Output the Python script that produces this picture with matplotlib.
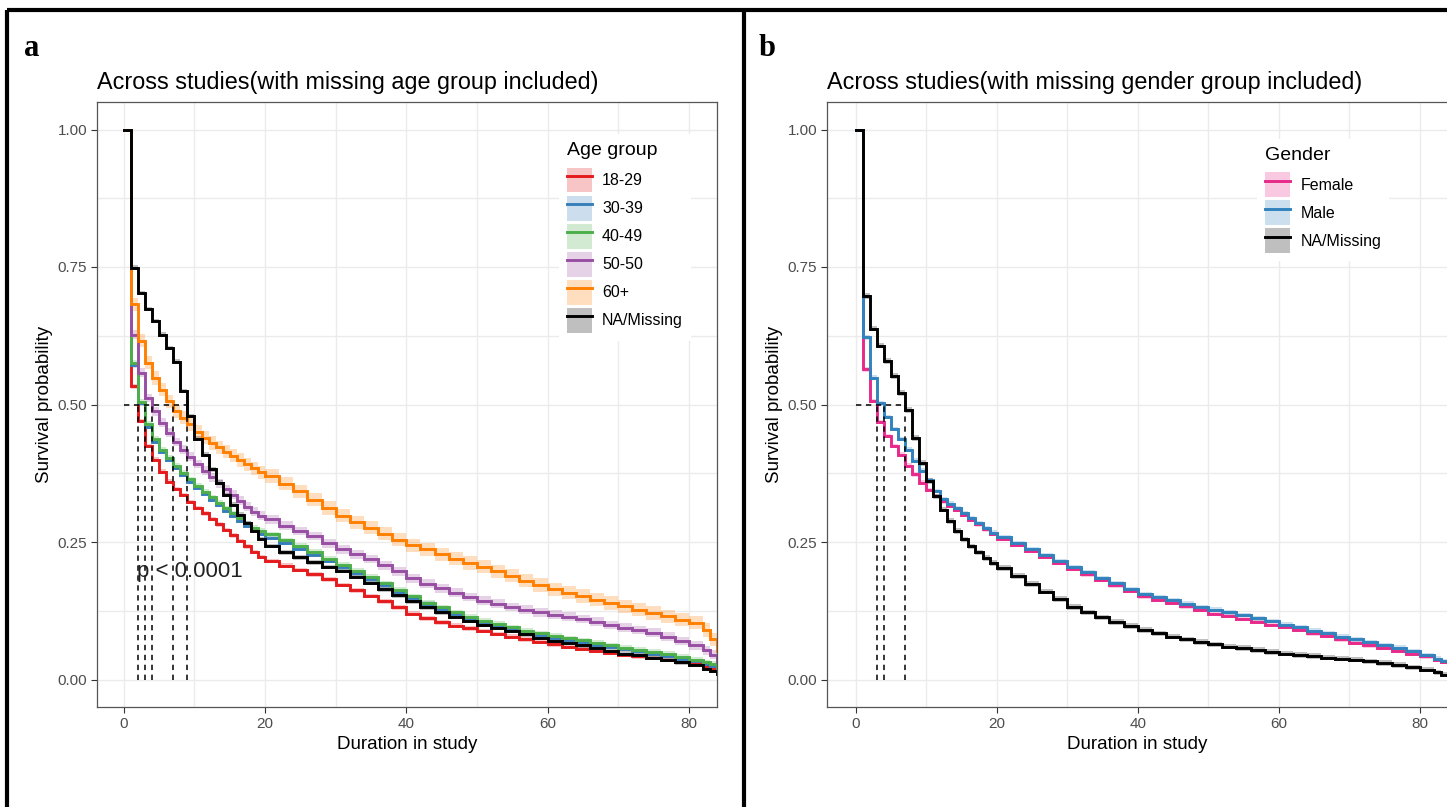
import matplotlib.pyplot as plt
from matplotlib.lines import Line2D
from matplotlib.patches import Patch

plt.rcParams['font.family'] = ['Liberation Sans', 'DejaVu Sans']

months = list(range(0, 21)) + list(range(22, 83, 2)) + [83, 84]

##### panel a: age groups
age_groups = ['18-29', '30-39', '40-49', '50-50', '60+', 'NA/Missing']
age_colors = ['#E41A1C', '#377EB8', '#4DAF4A', '#984EA3', '#FF7F00', '#000000']

surv_18_29 = [1.0, 0.533, 0.470, 0.425, 0.400, 0.378, 0.360, 0.346, 0.335, 0.323, 0.312,
              0.302, 0.292, 0.282, 0.272, 0.262, 0.252, 0.242, 0.232, 0.223, 0.215,
              0.207, 0.199, 0.191, 0.182, 0.172, 0.162, 0.152, 0.142, 0.131, 0.120,
              0.111, 0.104, 0.098, 0.093, 0.088, 0.083, 0.078, 0.073, 0.068, 0.064,
              0.060, 0.056, 0.052, 0.048, 0.045, 0.042, 0.039, 0.035, 0.032, 0.029,
              0.024, 0.020, 0.014]
surv_30_39 = [1.0, 0.571, 0.502, 0.460, 0.432, 0.414, 0.399, 0.385, 0.372, 0.360, 0.348,
              0.337, 0.327, 0.317, 0.307, 0.298, 0.289, 0.280, 0.272, 0.265, 0.258,
              0.248, 0.238, 0.227, 0.216, 0.204, 0.193, 0.182, 0.171, 0.160, 0.149,
              0.138, 0.129, 0.120, 0.112, 0.104, 0.098, 0.092, 0.086, 0.081, 0.076,
              0.072, 0.068, 0.063, 0.059, 0.055, 0.051, 0.047, 0.043, 0.038, 0.033,
              0.028, 0.025, 0.018]
surv_40_49 = [1.0, 0.576, 0.505, 0.465, 0.437, 0.418, 0.403, 0.389, 0.376, 0.364, 0.352,
              0.341, 0.331, 0.321, 0.311, 0.302, 0.293, 0.284, 0.276, 0.270, 0.264,
              0.253, 0.243, 0.232, 0.220, 0.208, 0.197, 0.186, 0.175, 0.163, 0.151,
              0.140, 0.131, 0.122, 0.114, 0.107, 0.101, 0.095, 0.089, 0.084, 0.079,
              0.075, 0.071, 0.066, 0.062, 0.058, 0.054, 0.050, 0.046, 0.041, 0.036,
              0.031, 0.028, 0.020]
surv_50_50 = [1.0, 0.627, 0.558, 0.512, 0.488, 0.467, 0.449, 0.432, 0.418, 0.405, 0.392,
              0.380, 0.368, 0.357, 0.346, 0.336, 0.325, 0.314, 0.305, 0.298, 0.291,
              0.280, 0.270, 0.261, 0.248, 0.237, 0.228, 0.219, 0.208, 0.197, 0.184,
              0.174, 0.166, 0.158, 0.150, 0.143, 0.138, 0.132, 0.127, 0.122, 0.118,
              0.114, 0.110, 0.105, 0.099, 0.094, 0.090, 0.085, 0.078, 0.070, 0.062,
              0.053, 0.045, 0.032]
surv_60_plus = [1.0, 0.682, 0.616, 0.576, 0.548, 0.527, 0.506, 0.488, 0.476, 0.464, 0.450,
                0.440, 0.430, 0.422, 0.414, 0.407, 0.399, 0.391, 0.384, 0.377, 0.370,
                0.356, 0.342, 0.327, 0.312, 0.298, 0.286, 0.276, 0.265, 0.254, 0.244,
                0.237, 0.228, 0.220, 0.212, 0.205, 0.197, 0.189, 0.180, 0.172, 0.164,
                0.158, 0.152, 0.145, 0.139, 0.133, 0.127, 0.121, 0.115, 0.109, 0.103,
                0.090, 0.073, 0.052]
surv_age_na = [1.0, 0.749, 0.703, 0.674, 0.652, 0.627, 0.603, 0.578, 0.525, 0.479, 0.438,
               0.409, 0.382, 0.358, 0.336, 0.318, 0.300, 0.285, 0.270, 0.256, 0.243,
               0.231, 0.222, 0.213, 0.205, 0.197, 0.186, 0.175, 0.164, 0.153, 0.142,
               0.131, 0.122, 0.114, 0.107, 0.100, 0.094, 0.088, 0.082, 0.076, 0.070,
               0.066, 0.062, 0.057, 0.052, 0.047, 0.044, 0.040, 0.036, 0.031, 0.027,
               0.020, 0.016, 0.010]
# half width of the confidence ribbons
age_ci = [0.004, 0.004, 0.005, 0.008, 0.012, 0.004]

##### panel b: gender
gender_groups = ['Female', 'Male', 'NA/Missing']
gender_colors = ['#E7298A', '#3182BD', '#000000']

surv_female = [1.0, 0.564, 0.506, 0.468, 0.443, 0.425, 0.409, 0.389, 0.373, 0.358, 0.345,
               0.334, 0.324, 0.316, 0.308, 0.299, 0.290, 0.282, 0.273, 0.265, 0.256,
               0.245, 0.234, 0.223, 0.212, 0.201, 0.191, 0.181, 0.171, 0.161, 0.151,
               0.145, 0.139, 0.133, 0.126, 0.120, 0.115, 0.110, 0.105, 0.100, 0.095,
               0.090, 0.084, 0.079, 0.073, 0.067, 0.062, 0.057, 0.052, 0.047, 0.042,
               0.036, 0.032, 0.022]
surv_male = [1.0, 0.622, 0.549, 0.503, 0.477, 0.456, 0.437, 0.418, 0.398, 0.380, 0.362,
             0.343, 0.328, 0.320, 0.312, 0.303, 0.294, 0.285, 0.276, 0.267, 0.259,
             0.248, 0.237, 0.226, 0.215, 0.205, 0.195, 0.185, 0.175, 0.165, 0.156,
             0.150, 0.144, 0.138, 0.132, 0.127, 0.122, 0.117, 0.111, 0.106, 0.100,
             0.095, 0.089, 0.084, 0.078, 0.073, 0.068, 0.063, 0.058, 0.052, 0.045,
             0.038, 0.034, 0.024]
surv_gender_na = [1.0, 0.697, 0.638, 0.607, 0.579, 0.552, 0.521, 0.490, 0.439, 0.394, 0.361,
                  0.333, 0.309, 0.288, 0.270, 0.255, 0.242, 0.231, 0.221, 0.212, 0.203,
                  0.188, 0.174, 0.160, 0.146, 0.132, 0.122, 0.113, 0.105, 0.097, 0.090,
                  0.084, 0.078, 0.073, 0.068, 0.064, 0.060, 0.057, 0.054, 0.050, 0.047,
                  0.045, 0.043, 0.040, 0.038, 0.036, 0.033, 0.030, 0.026, 0.022, 0.018,
                  0.013, 0.009, 0.005]
gender_ci = [0.004, 0.004, 0.005]


def median_time(surv):
    for t, s in zip(months, surv):
        if s <= 0.5:
            return t
    return None


def draw_panel(ax, groups, colors, curves, ci, title, leg_title, leg_xy, xmin):
    # ribbons first (starting after the first drop), lines on top
    for col, surv, hw in zip(colors, curves, ci):
        lo = [s - hw for s in surv[1:]]
        hi = [s + hw for s in surv[1:]]
        ax.fill_between(months[1:], lo, hi, step='post', color=col, alpha=0.25, lw=0)
    for col, surv in zip(colors, curves):
        ax.step(months, surv, where='post', color=col, lw=2.1, solid_joinstyle='miter')

    # median survival lines
    meds = [median_time(s) for s in curves]
    for m in set(meds):
        ax.plot([m, m], [0, 0.5], color='black', lw=1.1, ls=(0, (3.5, 3)))
    ax.plot([0, max(meds)], [0.5, 0.5], color='black', lw=1.1, ls=(0, (3.5, 3)))

    ax.set_xlim(xmin, 84)
    ax.set_ylim(-0.05, 1.05)
    ax.set_xticks([0, 20, 40, 60, 80])
    ax.set_xticks([10, 30, 50, 70], minor=True)
    ax.set_yticks([0, 0.25, 0.5, 0.75, 1.0])
    ax.set_yticklabels(['0.00', '0.25', '0.50', '0.75', '1.00'])
    ax.set_yticks([0.125, 0.375, 0.625, 0.875], minor=True)
    ax.grid(which='both', color='#EBEBEB', lw=1.0)
    ax.set_axisbelow(True)
    ax.tick_params(which='major', length=4, width=0.8, color='#333333',
                   labelsize=11, labelcolor='#4D4D4D', pad=3)
    ax.tick_params(which='minor', length=0)
    for sp in ax.spines.values():
        sp.set_color('#555555')
        sp.set_linewidth(0.9)

    ax.set_xlabel('Duration in study', fontsize=13.5, labelpad=4)
    ax.set_ylabel('Survival probability', fontsize=13.5, labelpad=3.5)
    ax.set_title(title, loc='left', fontsize=16.8, pad=9)

    handles = []
    for col in colors:
        band = Patch(facecolor=col, alpha=0.25, edgecolor='none')
        line = Line2D([], [], color=col, lw=2.1)
        handles.append((band, line))
    leg = ax.legend(handles, groups, title=leg_title, loc='upper left',
                    bbox_to_anchor=leg_xy, fontsize=11.5, title_fontsize=14,
                    frameon=True, facecolor='white', edgecolor='none', framealpha=1,
                    handlelength=1.56, handleheight=2.03, handletextpad=0.65,
                    labelspacing=0.19, borderpad=0.5, alignment='left', fancybox=False)
    # a bit more room between the legend title and the keys
    leg._legend_box.sep = 6


fig = plt.figure(figsize=(14.47, 8.07), dpi=100)

ax_a = fig.add_axes([97 / 1447, 1 - 707 / 807, 620 / 1447, 605 / 807])
draw_panel(ax_a, age_groups, age_colors,
           [surv_18_29, surv_30_39, surv_40_49, surv_50_50, surv_60_plus, surv_age_na],
           age_ci, 'Across studies(with missing age group included)', 'Age group',
           (0.732, 0.960), -3.8)
ax_a.text(1.8, 0.196, 'p < 0.0001', fontsize=16, color='#222222', va='center', ha='left')

ax_b = fig.add_axes([827 / 1447, 1 - 707 / 807, 621 / 1447, 605 / 807])
draw_panel(ax_b, gender_groups, gender_colors,
           [surv_female, surv_male, surv_gender_na],
           gender_ci, 'Across studies(with missing gender group included)', 'Gender',
           (0.680, 0.952), -4.05)

# outer frame of the figure
frame_kw = dict(transform=fig.transFigure, color='black', lw=3, solid_capstyle='butt')
fig.add_artist(Line2D([7 / 1447, 1], [1 - 10 / 807, 1 - 10 / 807], **frame_kw))
fig.add_artist(Line2D([7 / 1447, 7 / 1447], [0, 1 - 10 / 807], **frame_kw))
fig.add_artist(Line2D([744 / 1447, 744 / 1447], [0, 1 - 10 / 807], **frame_kw))

fig.text(32 / 1447, 1 - 48 / 807, 'a', fontsize=22, fontweight='bold',
         family='Liberation Serif', ha='center', va='center')
fig.text(767 / 1447, 1 - 48 / 807, 'b', fontsize=22, fontweight='bold',
         family='Liberation Serif', ha='center', va='center')

fig.savefig('out.png', dpi=100)
